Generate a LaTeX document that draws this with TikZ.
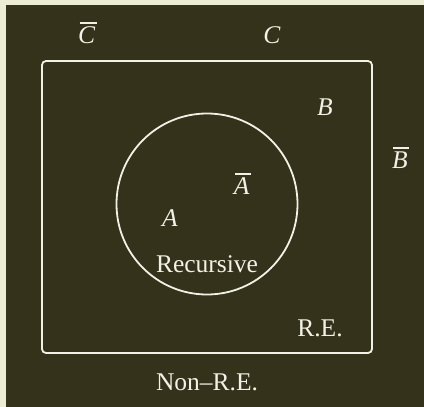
\documentclass[tikz,border=0pt]{standalone}
\usepackage{fontspec}
\setmainfont{Liberation Serif}
\definecolor{bgdark}{HTML}{34321A}
\definecolor{bglight}{HTML}{ECEBD3}
\definecolor{fg}{HTML}{F2F1E6}
\newcommand{\barletter}[1]{\tikz[baseline=(l.base)]{\node[inner sep=0pt] (l) {\textit{#1}};\draw[fg,line width=1.3pt] ([xshift=1.5pt,yshift=3.5pt]l.north west) -- ([xshift=1.5pt,yshift=3.5pt]l.north east);}}
\begin{document}
\begin{tikzpicture}[x=1pt,y=-1pt,
  lbl/.style={text=fg,font=\fontsize{25.5}{30}\selectfont,inner sep=0pt},
  shapeline/.style={draw=fg,line width=1.8pt}]
\useasboundingbox (0,0) rectangle (424,407);
\fill[bglight] (0,0) rectangle (424,407);
\fill[bgdark] (6,5) rectangle (424,407);
\node[shapeline,rounded corners=4pt,minimum width=330pt,minimum height=292pt,inner sep=0pt] (re) at (207,207) {};
\node[shapeline,circle,minimum size=181pt,inner sep=0pt] (rec) at (207,204) {};
\node[lbl] (cbar) at (88,33) {\barletter{C}};
\node[lbl] (c) at (272,35) {\textit{C}};
\node[lbl] (b) at (325,107) {\textit{B}};
\node[lbl] (bbar) at (401,158) {\barletter{B}};
\node[lbl] (abar) at (243,184) {\barletter{A}};
\node[lbl] (a) at (170,218) {\textit{A}};
\node[lbl] (recl) at (207,264) {Recursive};
\node[lbl] (rel) at (320,328) {R.E.};
\node[lbl] (nrel) at (207,382) {Non--R.E.};
\end{tikzpicture}
\end{document}
